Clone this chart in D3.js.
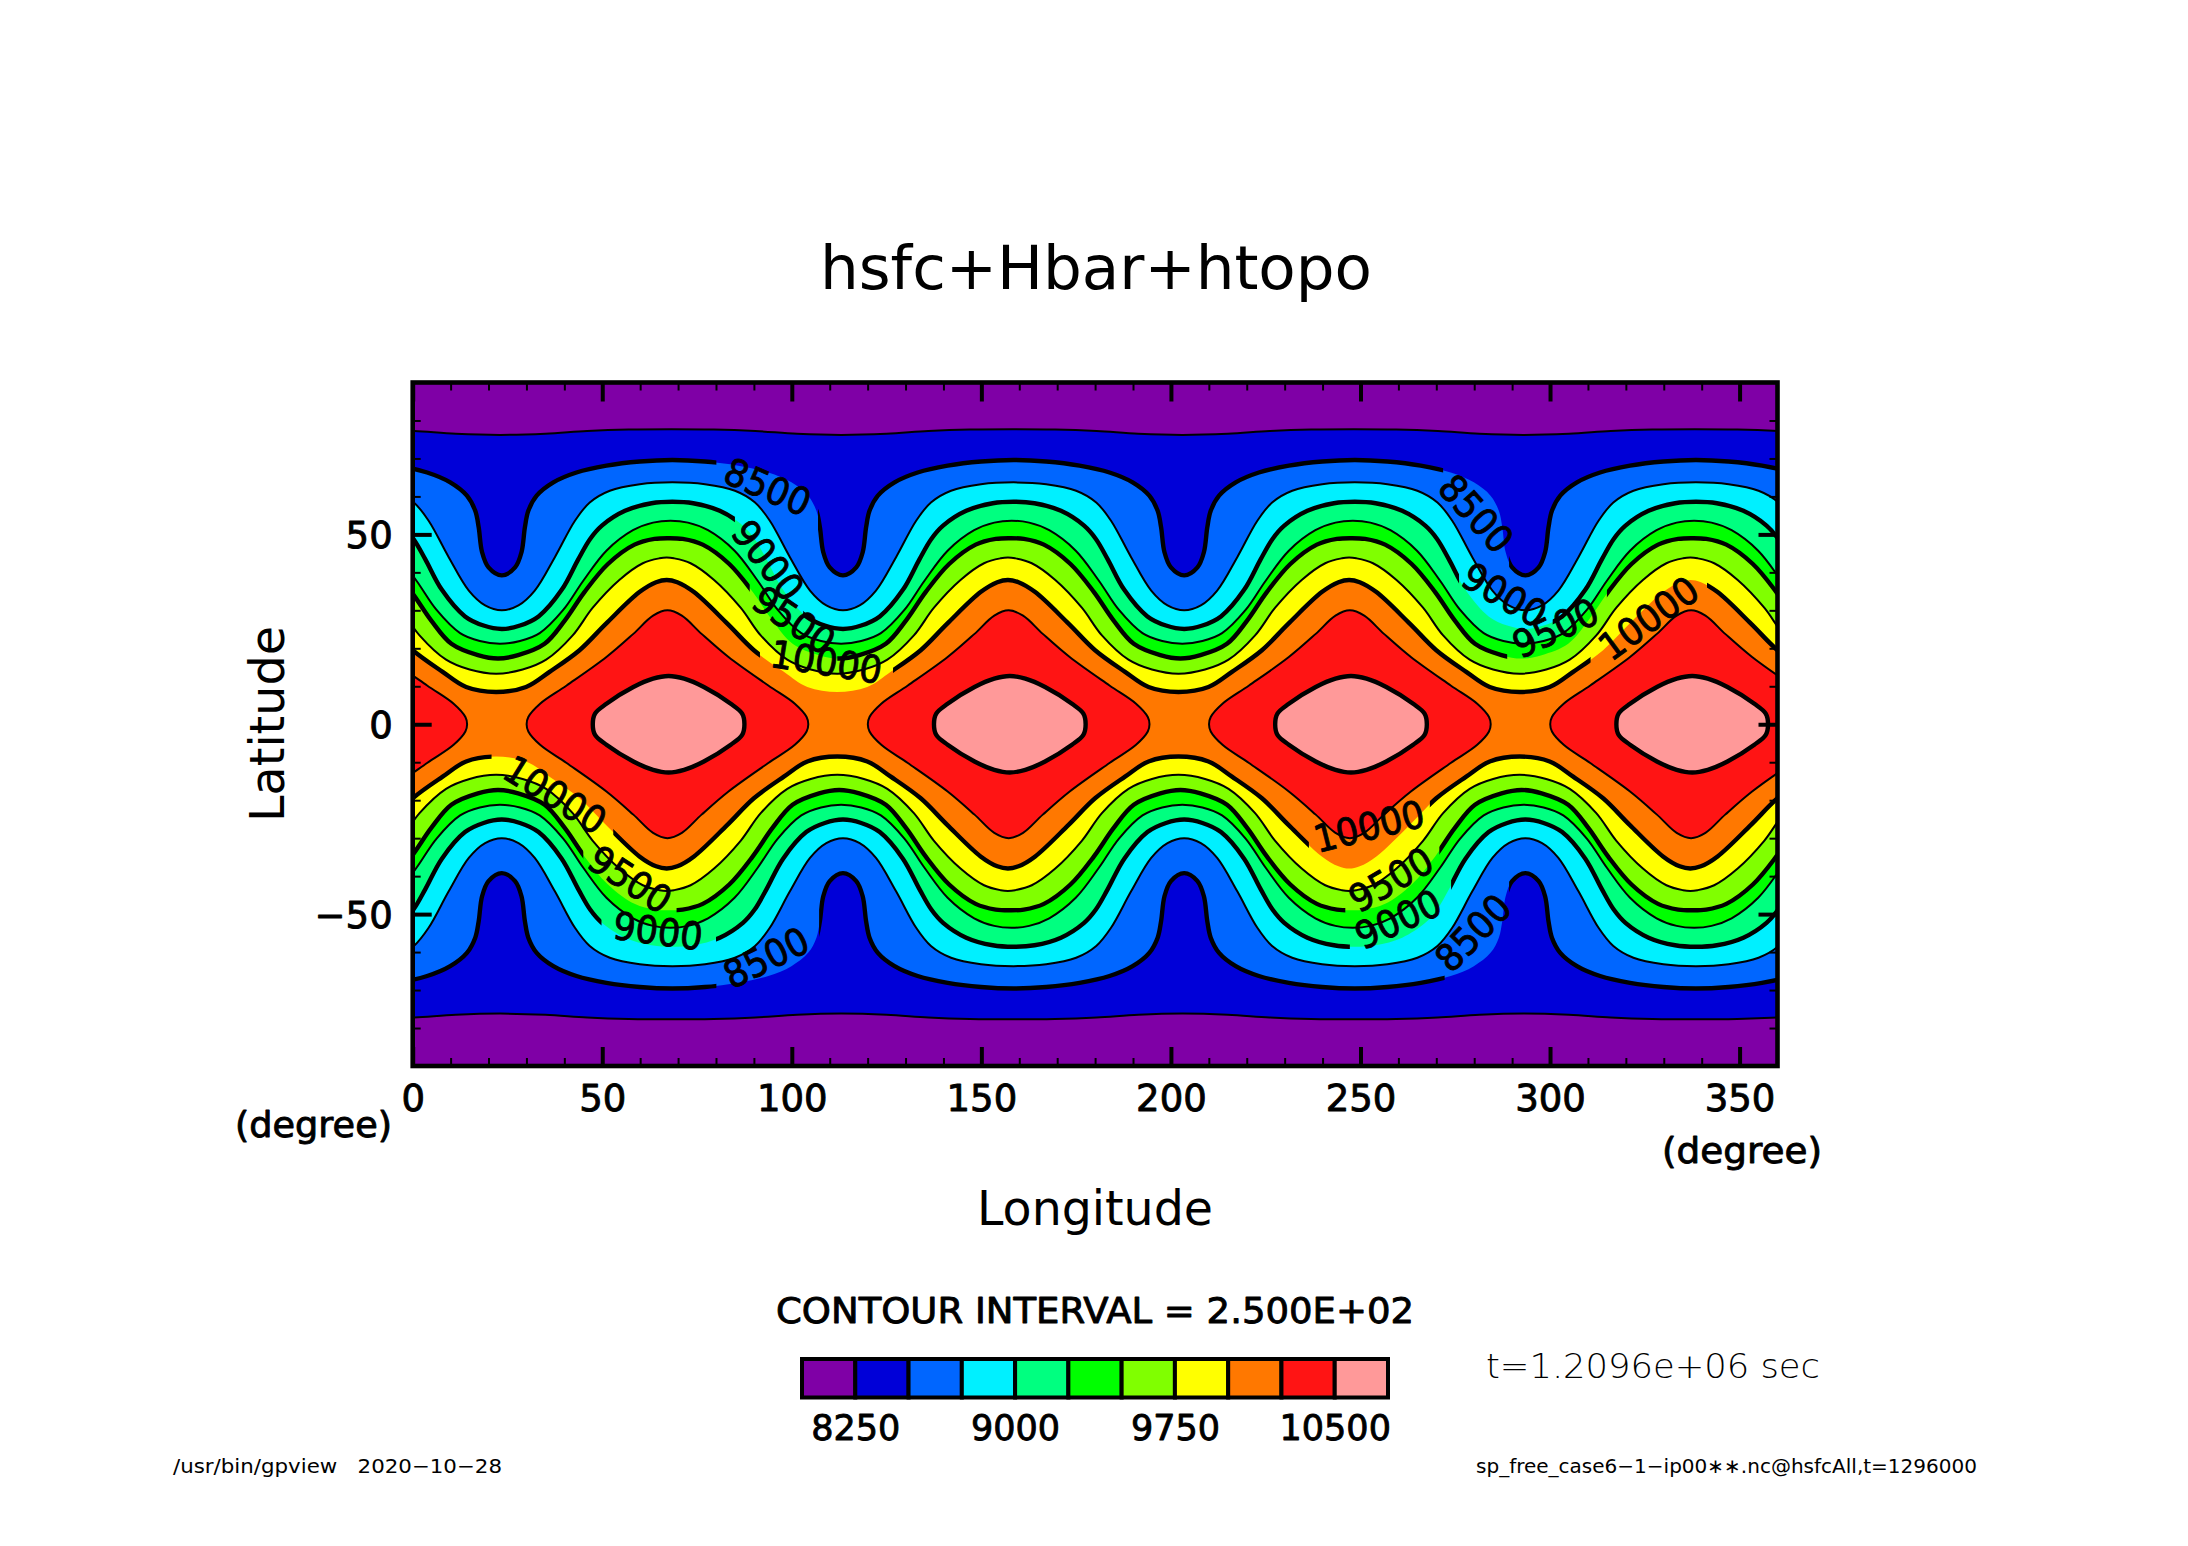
<!DOCTYPE html>
<html lang="en">
<head>
<meta charset="utf-8">
<title>hsfc+Hbar+htopo</title>
<script src="https://d3js.org/d3.v7.min.js"></script>
<style>
  body { margin: 0; background: #fff; }
  svg { display: block; }
  text { font-family: "DejaVu Sans", sans-serif; fill: #000; }
  .heavy { stroke: #000; stroke-width: 0.9px; stroke-linejoin: round; }
</style>
</head>
<body>
<svg width="2188" height="1546"></svg>
<script>
// contour levels and fill colours
var levels = [8250, 8500, 8750, 9000, 9250, 9500, 9750, 10000, 10250, 10500];
var colors = ["#7f00a6", "#0000d8", "#0066ff", "#00f0ff", "#00ff80", "#00ff00",
              "#80ff00", "#ffff00", "#ff7800", "#ff1414", "#ff9999"];
var legendTicks = [8250, 9000, 9750, 10500];

var lonMajor = [0, 50, 100, 150, 200, 250, 300, 350];
var lonMinor = [10, 20, 30, 40, 60, 70, 80, 90, 110, 120, 130, 140, 160, 170, 180, 190,
                210, 220, 230, 240, 260, 270, 280, 290, 310, 320, 330, 340];
var latMajor = [-50, 0, 50];
var latMinor = [-80, -70, -60, -40, -30, -20, -10, 10, 20, 30, 40, 60, 70, 80];

// north side contours, [lon, lat], trough to crest of one wave
var c8250 = [[23,76.2],[35,76.5],[46,77.2],[57,77.6],[68.2,77.7]];
var c8500 = [[23.5,39.2],[27,41.3],[28.7,45.3],[29.6,51.9],[30.5,56.2],[32.7,60.2],[37.1,63.7],
             [43.2,66.3],[51.1,68.1],[59.9,69.2],[68.5,69.6]];
var c8750 = [[23.5,30],[27.9,31.3],[32.2,35.2],[37.5,44],[42.8,53.6],[46.7,58.4],[52,61.5],
             [59.9,63.2],[68.5,63.7]];
var c9000 = [[23.5,25.1],[28.3,26],[33.2,28.4],[39.3,35.4],[43.7,43.5],[46.8,48.8],[49.9,52.3],
             [56,56.2],[63,58.2],[68.5,58.6]];
var c9250 = [[23,21.2],[28.3,21.9],[33.5,24],[39.7,30.1],[45,37.8],[51.1,45.7],[58.1,51.1],
             [63.4,53.1],[68,53.6]];
var c9500 = [[22.5,17.3],[27.8,18.2],[34.8,21.2],[40.1,27.3],[45.3,34.8],[51.5,42.2],[58.5,47.3],
             [63.8,48.8],[67.5,49]];
var c9750 = [[22,13.3],[29,14.4],[35.2,17],[42.2,23.4],[47.5,30.7],[54.5,38],[60.7,42.4],
             [65.1,43.7],[67,43.9]];
var c10000 = [[22,8.5],[29.9,9.8],[36.1,13.8],[44,19.5],[51,26.5],[59.8,34.8],[64.2,37.4],[67,38]];
// closed cells, quarter outline, [lon, lat], side vertex to top
var c10250 = [[30.05,0],[30.5,1.9],[33.6,5.4],[40.6,10.2],[51.1,17.7],[58.2,23.8],[63.4,28.6],[67.2,30]];
var c10500 = [[47.5,0],[48.1,2.8],[51.1,5.4],[58.2,9.8],[63.4,12],[67.5,12.7]];

var waveLines = [c8250, c8500, c8750, c9000, c9250, c9500, c9750, c10000];
var cellLines = [c10250, c10500];

// where the labels break the contour: level, hemisphere, from lon, to lon
var gaps = [
  [8500, 1, 80.1, 106.9], [9000, 1, 85, 103], [9500, 1, 88.9, 112], [10000, 1, 91.6, 126.7],
  [8500, 1, 271.8, 289.2], [9000, 1, 276, 300.7], [9500, 1, 288.7, 315], [10000, 1, 310.7, 341.4],
  [10000, -1, 20.8, 52.9], [9500, -1, 45, 69.6], [9000, -1, 49.8, 80], [8500, -1, 80.1, 107.2],
  [10000, -1, 236.4, 268.3], [9500, -1, 246, 270.8], [9000, -1, 247.2, 273.9], [8500, -1, 272.2, 289.2]
];
// contour labels: text, lon, lat, angle
var contourLabels = [
  ["8500", 93.6, 62.4, 23.5], ["9000", 93.6, 43.1, 52], ["9500", 100.5, 27.3, 34], ["10000", 109.1, 16.3, 9],
  ["8500", 280.4, 55.4, 48], ["9000", 287.9, 33.9, 30], ["9500", 301.5, 25.2, -25], ["10000", 326.1, 27.8, -36],
  ["10000", 37.5, -18.7, 32], ["9500", 57.3, -41, 33], ["9000", 64.7, -54.6, 7.5], ["8500", 93.3, -61.6, -26.5],
  ["10000", 252.3, -27, -14], ["9500", 258.1, -41, -30], ["9000", 260, -51.5, -25], ["8500", 279.8, -55, -46]
];

var thick = [8500, 9000, 9500, 10000, 10500];

var svg = d3.select("svg");
var x = d3.scaleLinear().domain([0, 360]).range([412.7, 1777.5]);
var y = d3.scaleLinear().domain([-90, 90]).range([1066, 382.5]);

svg.append("clipPath").attr("id", "plot").append("rect")
  .attr("x", x(0)).attr("y", y(90)).attr("width", x(360) - x(0)).attr("height", y(-90) - y(90));

// repeat one wave along the whole longitude range
function wave(half, sign) {
  var crest = half[half.length - 1][0];
  var back = half.slice(0, -1).reverse().map(function(p) { return [2 * crest - p[0], p[1]]; });
  var period = half.concat(back).slice(0, -1);
  var out = [];
  [-1, 0, 1, 2, 3, 4].forEach(function(k) {
    period.forEach(function(p) { out.push([p[0] + 90 * k, sign * p[1]]); });
  });
  return out;
}

// closed cell around one crest
function cell(quarter, k) {
  var crest = quarter[quarter.length - 1][0];
  var top = quarter.concat(quarter.slice(0, -1).reverse().map(function(p) { return [2 * crest - p[0], p[1]]; }));
  var bottom = top.slice(1, -1).reverse().map(function(p) { return [p[0], -p[1]]; });
  return top.concat(bottom).map(function(p) { return [p[0] + 90 * k, p[1]]; });
}

var line = d3.line().x(function(d) { return x(d[0]); }).y(function(d) { return y(d[1]); })
  .curve(d3.curveCatmullRom.alpha(0.5));
var loop = d3.line().x(function(d) { return x(d[0]); }).y(function(d) { return y(d[1]); })
  .curve(d3.curveCatmullRomClosed.alpha(0.5));

var plot = svg.append("g").attr("clip-path", "url(#plot)");

// filled bands, lowest first
plot.append("rect")
  .attr("x", x(0)).attr("y", y(90)).attr("width", x(360) - x(0)).attr("height", y(-90) - y(90))
  .attr("fill", colors[0]);

waveLines.forEach(function(half, i) {
  var north = wave(half, 1), south = wave(half, -1).reverse();
  plot.append("path")
    .attr("d", line(north) + line(south).replace("M", "L") + "Z")
    .attr("fill", colors[i + 1]);
});
cellLines.forEach(function(quarter, i) {
  d3.range(-1, 5).forEach(function(k) {
    plot.append("path").attr("d", loop(cell(quarter, k))).attr("fill", colors[i + 9]);
  });
});

// contour lines, broken where a label sits on them
function bands(level, sign) {
  var cuts = gaps.filter(function(g) { return g[0] === level && g[1] === sign; })
    .sort(function(a, b) { return a[2] - b[2]; });
  var from = 0, out = [];
  cuts.forEach(function(g) { out.push([from, g[2]]); from = g[3]; });
  out.push([from, 360]);
  return out;
}

waveLines.forEach(function(half, i) {
  var level = levels[i];
  [1, -1].forEach(function(sign) {
    var id = "cut" + level + (sign > 0 ? "n" : "s");
    svg.append("clipPath").attr("id", id).selectAll("rect")
      .data(bands(level, sign)).enter().append("rect")
      .attr("x", function(d) { return x(d[0]); })
      .attr("y", y(90))
      .attr("width", function(d) { return x(d[1]) - x(d[0]); })
      .attr("height", y(-90) - y(90));
    plot.append("g").attr("clip-path", "url(#" + id + ")").append("path")
      .attr("d", line(wave(half, sign)))
      .attr("fill", "none").attr("stroke", "#000")
      .attr("stroke-width", thick.indexOf(level) >= 0 ? 4.4 : 2);
  });
});
cellLines.forEach(function(quarter, i) {
  d3.range(-1, 5).forEach(function(k) {
    plot.append("path").attr("d", loop(cell(quarter, k)))
      .attr("fill", "none").attr("stroke", "#000")
      .attr("stroke-width", thick.indexOf(levels[i + 8]) >= 0 ? 4.4 : 2);
  });
});

plot.selectAll(".clabel").data(contourLabels).enter().append("text")
  .attr("class", "clabel heavy")
  .attr("text-anchor", "middle")
  .attr("dominant-baseline", "central")
  .attr("font-size", 38)
  .attr("textLength", function(d) { return d[0].length * 22.5; })
  .attr("lengthAdjust", "spacingAndGlyphs")
  .attr("transform", function(d) { return "translate(" + x(d[1]) + "," + y(d[2]) + ") rotate(" + d[3] + ")"; })
  .text(function(d) { return d[0]; });

// axes, ticks point inward on all four sides
function styleAxis(g, w) {
  g.select(".domain").remove();
  g.selectAll("line").attr("stroke", "#000").attr("stroke-width", w);
}
var minus = function(v) { return String(v).replace("-", "\u2212"); };

svg.append("g").attr("transform", "translate(0," + y(-90) + ")")
  .call(d3.axisBottom(x).tickValues(lonMinor).tickSize(-8).tickFormat(""))
  .call(styleAxis, 2);
svg.append("g").attr("transform", "translate(0," + y(90) + ")")
  .call(d3.axisTop(x).tickValues(lonMinor).tickSize(-8).tickFormat(""))
  .call(styleAxis, 2);
svg.append("g").attr("transform", "translate(" + x(0) + ",0)")
  .call(d3.axisLeft(y).tickValues(latMinor).tickSize(-8).tickFormat(""))
  .call(styleAxis, 2);
svg.append("g").attr("transform", "translate(" + x(360) + ",0)")
  .call(d3.axisRight(y).tickValues(latMinor).tickSize(-8).tickFormat(""))
  .call(styleAxis, 2);

svg.append("g").attr("transform", "translate(0," + y(-90) + ")")
  .call(d3.axisBottom(x).tickValues(lonMajor).tickSize(-19).tickFormat(minus))
  .call(styleAxis, 4)
  .selectAll("text").attr("y", 45).attr("dy", 0).attr("font-size", 37).attr("class", "heavy")
  .attr("font-family", "DejaVu Sans").attr("fill", "#000");
svg.append("g").attr("transform", "translate(0," + y(90) + ")")
  .call(d3.axisTop(x).tickValues(lonMajor).tickSize(-19).tickFormat(""))
  .call(styleAxis, 4);
svg.append("g").attr("transform", "translate(" + x(0) + ",0)")
  .call(d3.axisLeft(y).tickValues(latMajor).tickSize(-19).tickFormat(minus))
  .call(styleAxis, 4)
  .selectAll("text").attr("x", -20).attr("dy", 13).attr("font-size", 37).attr("class", "heavy")
  .attr("font-family", "DejaVu Sans").attr("fill", "#000");
svg.append("g").attr("transform", "translate(" + x(360) + ",0)")
  .call(d3.axisRight(y).tickValues(latMajor).tickSize(-19).tickFormat(""))
  .call(styleAxis, 4);

svg.append("rect")
  .attr("x", x(0)).attr("y", y(90)).attr("width", x(360) - x(0)).attr("height", y(-90) - y(90))
  .attr("fill", "none").attr("stroke", "#000").attr("stroke-width", 4.6);

// texts around the plot
function label(txt, px, py, size, len, anchor, rot) {
  var t = svg.append("text").attr("font-size", size).attr("text-anchor", anchor || "start")
    .attr("transform", "translate(" + px + "," + py + ")" + (rot ? " rotate(" + rot + ")" : ""))
    .text(txt);
  if (len) t.attr("textLength", len).attr("lengthAdjust", "spacingAndGlyphs");
  return t;
}
label("hsfc+Hbar+htopo", 1096, 289, 60, 552, "middle");
label("Longitude", 1095, 1225, 48, 236, "middle");
label("Latitude", 284, 724, 48, 196, "middle", -90);
label("(degree)", 235, 1137, 36, 157).attr("class", "heavy");
label("(degree)", 1662, 1163, 36, 160).attr("class", "heavy");
label("CONTOUR INTERVAL = 2.500E+02", 776, 1323, 36, 638).attr("class", "heavy");
label("t=1.2096e+06 sec", 1486, 1378, 34, 334).attr("font-weight", 200);
label("/usr/bin/gpview   2020\u221210\u221228", 173, 1473, 20, 329).attr("xml:space", "preserve");
label("sp_free_case6\u22121\u2212ip00\u2217\u2217.nc@hsfcAll,t=1296000", 1476, 1473, 20, 501);

// colour bar
var edges = [8000].concat(levels);
var legendX = d3.scaleLinear().domain([8000, 10750]).range([802, 1388]);
svg.append("g").selectAll("rect").data(edges).enter().append("rect")
  .attr("x", function(d) { return legendX(d); })
  .attr("y", 1359)
  .attr("width", function(d) { return legendX(d + 250) - legendX(d); })
  .attr("height", 38.5)
  .attr("fill", function(d, i) { return colors[i]; })
  .attr("stroke", "#000").attr("stroke-width", 4);
svg.append("g").attr("transform", "translate(0,1399)")
  .call(d3.axisBottom(legendX).tickValues(legendTicks).tickSize(0).tickFormat(d3.format("d")))
  .call(function(g) { g.select(".domain").remove(); })
  .selectAll("text").attr("y", 41).attr("dy", 0).attr("font-size", 35).attr("class", "heavy")
  .attr("font-family", "DejaVu Sans").attr("fill", "#000");
</script>
</body>
</html>
